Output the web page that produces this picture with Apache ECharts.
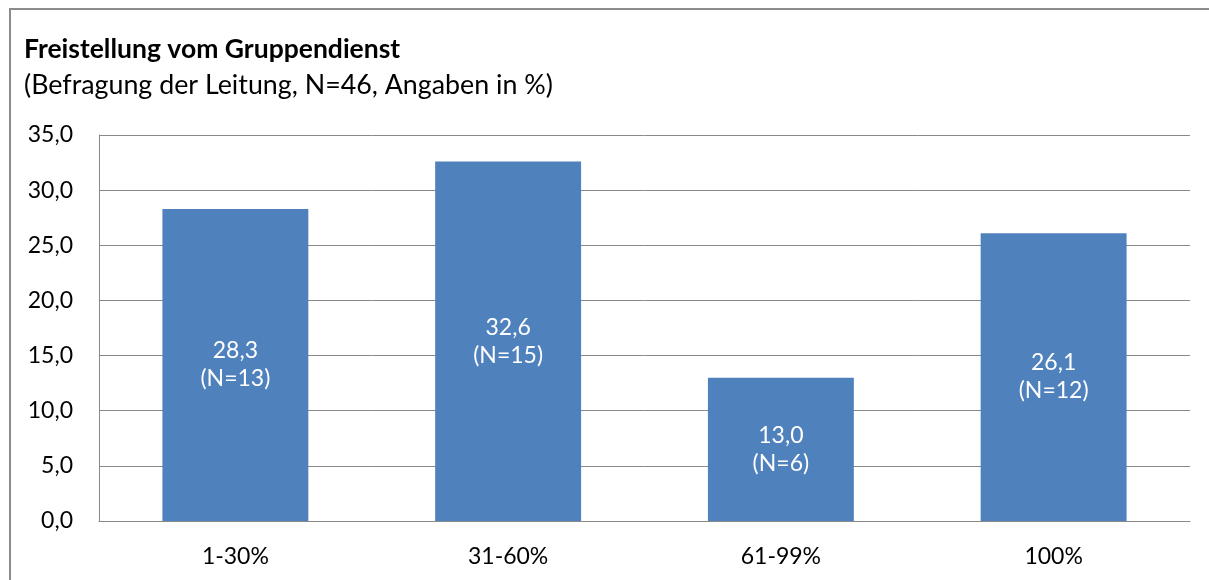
<!DOCTYPE html>
<html>
<head>
<meta charset="utf-8">
<script src="https://cdn.jsdelivr.net/npm/echarts@6/dist/echarts.min.js"></script>
<style>
  html, body { margin: 0; padding: 0; background: #fff; }
  #frame { position: absolute; left: 9px; top: 8px; width: 1300px; height: 700px; border: 2px solid #8c8c8c; box-sizing: border-box; }
  #chart { position: absolute; left: 0; top: 0; width: 1209px; height: 580px; }
</style>
</head>
<body>
<div id="frame"></div>
<div id="chart"></div>
<script>
const categories = ['1-30%', '31-60%', '61-99%', '100%'];
const percentValues = [28.3, 32.6, 13.0, 26.1];
const nCounts = [13, 15, 6, 12];
const yTicks = [0, 5, 10, 15, 20, 25, 30, 35];

const fmt = v => v.toFixed(1).replace('.', ',');
const font = 'Lato';

const chart = echarts.init(document.getElementById('chart'));
chart.setOption({
    animation: false,
    textStyle: { fontFamily: font },
    title: {
        text: 'Freistellung vom Gruppendienst',
        subtext: '(Befragung der Leitung, N=46, Angaben in %)',
        left: 19,
        top: 31,
        itemGap: 9,
        textStyle: { fontFamily: font, fontSize: 26.5, fontWeight: 'bold', color: '#000' },
        subtextStyle: { fontFamily: font, fontSize: 26.8, color: '#000' }
    },
    grid: { left: 99, right: 19, top: 135, bottom: 59 },
    xAxis: {
        type: 'category',
        data: categories,
        axisTick: { show: false },
        axisLine: { lineStyle: { color: '#898989', width: 1 } },
        axisLabel: { color: '#000', fontSize: 23, margin: 24, fontFamily: font }
    },
    yAxis: {
        type: 'value',
        min: yTicks[0],
        max: yTicks[yTicks.length - 1],
        interval: 5,
        axisLine: { show: true, lineStyle: { color: '#898989', width: 1 } },
        axisTick: { show: false },
        splitLine: { lineStyle: { color: '#898989', width: 1 } },
        axisLabel: { color: '#000', fontSize: 23, margin: 26, fontFamily: font, formatter: v => fmt(v) }
    },
    series: [{
        type: 'bar',
        data: percentValues,
        barWidth: '53.5%',
        itemStyle: { color: '#4F81BD' },
        label: {
            show: true,
            position: 'inside',
            color: '#fff',
            fontSize: 23,
            lineHeight: 28,
            fontFamily: font,
            formatter: p => fmt(p.value) + '\n(N=' + nCounts[p.dataIndex] + ')'
        }
    }]
});
</script>
</body>
</html>
